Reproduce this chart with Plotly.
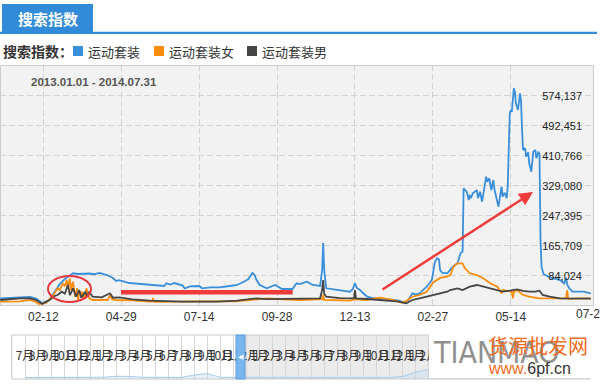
import pandas as pd
import plotly.graph_objects as go

# ---------------- data ----------------
series_names = ["运动套装", "运动套装女", "运动套装男"]

blue_dates = ["2013-01-01","2013-01-10","2013-01-20","2013-01-30","2013-02-05","2013-02-08","2013-02-11","2013-02-15",
"2013-02-18","2013-02-23","2013-02-28","2013-03-05","2013-03-10","2013-03-13","2013-03-18","2013-03-24","2013-03-29",
"2013-04-03","2013-04-08","2013-04-15","2013-04-21","2013-04-24","2013-04-27","2013-05-07","2013-05-17","2013-05-27",
"2013-06-05","2013-06-10","2013-06-12","2013-06-16","2013-06-20","2013-06-28","2013-06-30","2013-07-05","2013-07-14",
"2013-07-17","2013-07-25","2013-08-03","2013-08-13","2013-08-20","2013-08-28","2013-08-31","2013-09-04","2013-09-06",
"2013-09-08","2013-09-11","2013-09-18","2013-09-26","2013-10-03","2013-10-13","2013-10-17","2013-10-20","2013-10-27",
"2013-11-02","2013-11-09","2013-11-11","2013-11-12","2013-11-13","2013-11-15","2013-11-28","2013-12-08","2013-12-11",
"2013-12-13","2013-12-15","2013-12-18","2013-12-21","2013-12-25","2013-12-31","2014-01-06","2014-01-19","2014-01-25",
"2014-01-30","2014-02-03","2014-02-07","2014-02-10","2014-02-14","2014-02-21","2014-02-26","2014-02-27","2014-03-01",
"2014-03-03","2014-03-05","2014-03-06","2014-03-08","2014-03-13","2014-03-19","2014-03-23","2014-03-26","2014-03-28",
"2014-03-29","2014-04-01","2014-04-03","2014-04-04","2014-04-05","2014-04-07","2014-04-11","2014-04-12","2014-04-14",
"2014-04-16","2014-04-18","2014-04-20","2014-04-21","2014-04-23","2014-04-25","2014-04-27","2014-04-28","2014-04-30",
"2014-05-02","2014-05-05","2014-05-06","2014-05-08","2014-05-10","2014-05-11","2014-05-13","2014-05-14","2014-05-15",
"2014-05-17","2014-05-18","2014-05-19","2014-05-21","2014-05-23","2014-05-24","2014-05-25","2014-05-26","2014-05-28",
"2014-05-29","2014-05-31","2014-06-01","2014-06-03","2014-06-05","2014-06-07","2014-06-08","2014-06-10","2014-06-11",
"2014-06-12","2014-06-13","2014-06-15","2014-06-21","2014-07-01","2014-07-05","2014-07-07","2014-07-08","2014-07-10",
"2014-07-13","2014-07-24","2014-07-31"]
blue_values = [21900,23300,24600,26000,22000,15100,9500,14000,
17900,39600,61400,75000,85900,90600,88700,89000,90000,
88000,91400,85900,77800,69600,72000,64100,62000,58700,
58000,56000,63300,60000,64100,57000,49200,55000,56000,
49700,52000,52000,56000,58700,69600,75000,91400,86000,
72300,58700,49700,58700,47800,47800,63300,61000,67700,
58700,56000,99500,173900,99500,49700,45100,40500,48000,
63300,50000,45000,36100,26800,22500,22500,17900,16000,
10500,17900,36100,33000,36100,54100,72300,90600,122100,
131400,128000,100000,92000,90600,110000,117800,145800,150000,
322000,312700,290100,303800,295000,308400,317400,295000,312700,
285500,317000,353600,340000,349200,317400,344600,320000,294800,
271900,326400,299100,310000,294800,326400,526200,535200,530000,
594300,585000,553500,535200,580700,560000,480800,426300,430900,
408100,420000,390100,367200,421700,426300,403700,421700,415000,
181200,108500,88000,80000,72000,63000,78000,60000,49700,
40500,40500,36100]

orange_dates = ["2013-01-01","2013-01-12","2013-01-20","2013-01-30","2013-02-03","2013-02-08","2013-02-15","2013-02-20",
"2013-02-23","2013-02-26","2013-02-28","2013-03-03","2013-03-05","2013-03-07","2013-03-08","2013-03-10","2013-03-11",
"2013-03-13","2013-03-15","2013-03-17","2013-03-18","2013-03-19","2013-03-21","2013-03-22","2013-03-24","2013-03-26",
"2013-03-29","2013-04-01","2013-04-10","2013-04-16","2013-04-18","2013-04-20","2013-04-24","2013-05-10","2013-05-27",
"2013-05-29","2013-05-30","2013-05-31","2013-07-14","2013-08-18","2013-09-01","2013-09-18","2013-10-20","2013-11-11",
"2013-11-12","2013-11-13","2013-12-08","2013-12-13","2013-12-25","2014-01-06","2014-01-19","2014-01-28","2014-02-01",
"2014-02-07","2014-02-14","2014-02-21","2014-02-27","2014-03-06","2014-03-13","2014-03-16","2014-03-19","2014-03-23",
"2014-03-28","2014-03-30","2014-04-04","2014-04-11","2014-04-17","2014-04-24","2014-05-01","2014-05-05","2014-05-06",
"2014-05-15","2014-05-16","2014-05-17","2014-05-20","2014-05-26","2014-06-01","2014-06-11","2014-06-21","2014-07-01",
"2014-07-07","2014-07-08","2014-07-09","2014-07-20","2014-07-31"]
orange_values = [13200,14500,14000,17900,15000,7000,10500,26800,
36100,49700,45000,63300,55000,72300,50000,76900,45000,
67700,26800,49700,17900,45100,30000,40500,20000,49700,
22500,17900,18600,18000,31500,20000,17900,17000,13200,
14000,23000,13000,14000,14000,17900,21900,17900,20000,
31500,18000,16000,20000,17900,24100,17900,10500,15000,
26800,31500,40500,65000,78000,81300,85900,108500,117800,
117800,105000,90600,85900,76900,63300,54100,36100,45000,
40500,22500,40000,45100,31500,26800,22500,22500,21500,
22500,45100,21000,22500,22500]

black_dates = ["2013-01-01","2013-01-10","2013-01-20","2013-01-30","2013-02-05","2013-02-11","2013-02-18","2013-02-23",
"2013-02-26","2013-03-02","2013-03-05","2013-03-08","2013-03-10","2013-03-13","2013-03-16","2013-03-19","2013-03-21",
"2013-03-25","2013-03-27","2013-03-29","2013-04-01","2013-04-10","2013-04-18","2013-04-21","2013-04-27","2013-05-10",
"2013-05-27","2013-06-28","2013-07-31","2013-08-20","2013-09-01","2013-09-08","2013-09-18","2013-09-28","2013-10-08",
"2013-10-20","2013-11-09","2013-11-11","2013-11-12","2013-11-13","2013-11-15","2013-11-28","2013-12-12","2013-12-13",
"2013-12-14","2013-12-25","2014-01-06","2014-01-19","2014-01-25","2014-02-01","2014-02-07","2014-02-14","2014-02-21",
"2014-02-27","2014-03-06","2014-03-13","2014-03-16","2014-03-23","2014-03-28","2014-04-04","2014-04-11","2014-04-17",
"2014-04-24","2014-05-01","2014-05-06","2014-05-13","2014-05-20","2014-05-26","2014-06-01","2014-06-07","2014-06-11",
"2014-06-14","2014-06-21","2014-07-01","2014-07-17","2014-07-31"]
black_values = [17900,19800,22500,22500,17900,7000,17900,28700,
31500,40500,35000,58700,31000,49700,26800,45100,24000,
40500,28700,40500,26800,25000,36100,24000,25200,19800,
16000,13200,13200,16000,20600,22500,20000,20600,22500,
22500,22500,45100,72300,35000,26800,23000,22500,45100,
22500,20600,17900,15000,13200,8900,17900,22500,26800,
31500,36100,40500,45100,49700,45000,54100,58700,54100,
49700,45100,40500,43200,47000,43000,40500,40500,43200,
31500,26800,22500,22500,21500]

x_tick_dates = ["2013-02-12","2013-04-29","2013-07-14","2013-09-28","2013-12-13","2014-02-27","2014-05-14","2014-07-29"]
last_tick_label = "07-2"   # the last tick label is cut off by the page edge in the original
y_tick_values = [84024, 165709, 247395, 329080, 410766, 492451, 574137]
date_range_label = "2013.01.01 - 2014.07.31"

# navigator (overview strip), monthly from 2011-07
nav_labels = ["7月","8月","9月","10月","11月","12月","1月","2月","3月","4月","5月","6月",
              "7月","8月","9月","10月","11月","12月","1月","2月","3月","4月","5月","6月",
              "7月","8月","9月","10月","11月","12月","1月","2月"]
nav_values = [34000,34000,32000,34000,36000,34000,40000,62000,60000,40000,36000,34000,
              36000,90000,125000,38000,36000,34000,34000,36000,38000,36000,36000,38000,
              36000,36000,38000,36000,36000,60000,160000,220000,300000,400000,450000,300000,100000]

# ---------------- geometry helpers ----------------
W, H = 600, 384
def X(p): return p / W
def Y(p): return 1 - p / H

PL, PR, PT, PB = 0, 594, 65, 306
ref = pd.Timestamp("2013-02-12")
ppd = (588.7 - 43.3) / 532.0
x_lo = ref - pd.Timedelta(days=(43.3 - PL) / ppd)
x_hi = ref + pd.Timedelta(days=(PR - 43.3) / ppd)
ppv = 30.0 / (y_tick_values[1] - y_tick_values[0])
y_lo = y_tick_values[0] - (PB - 275.7) / ppv
y_hi = y_tick_values[0] + (275.7 - PT) / ppv

BLUE, ORANGE, DARK = "#3a8fdc", "#ff8c0a", "#454545"
CJK = "Noto Sans CJK SC, sans-serif"
ARIAL = "Arial, Liberation Sans, sans-serif"

fig = go.Figure()
for d, v, name, col in [(blue_dates, blue_values, series_names[0], BLUE),
                        (orange_dates, orange_values, series_names[1], ORANGE),
                        (black_dates, black_values, series_names[2], DARK)]:
    fig.add_trace(go.Scatter(x=pd.to_datetime(d), y=v, mode="lines", name=name,
                             line=dict(color=col, width=1.8), xaxis="x", yaxis="y"))

fig.add_trace(go.Scatter(x=list(range(len(nav_values))), y=nav_values, mode="lines",
                         line=dict(color="#a8cbec", width=1), fill="tozeroy",
                         fillcolor="rgba(190,215,240,0.35)", xaxis="x2", yaxis="y2"))

NX0, NX1, NY0, NY1 = 11.7, 590, 335, 379
nstep = 13.03
n_lo = -(25 - NX0) / nstep
n_hi = (NX1 - 25) / nstep

fig.update_layout(
    width=W, height=H, margin=dict(l=0, r=0, t=0, b=0),
    paper_bgcolor="white", plot_bgcolor="rgba(0,0,0,0)", showlegend=False,
    xaxis=dict(domain=[X(PL), X(PR)], range=[x_lo, x_hi], type="date", anchor="y",
               tickvals=pd.to_datetime(x_tick_dates), tickformat="%m-%d", ticklabelstandoff=2,
               showgrid=True, gridcolor="#d2d2d2", gridwidth=1, griddash="6px,3px",
               zeroline=False, showline=False, ticks="",
               tickfont=dict(family=ARIAL, size=12, color="#333")),
    yaxis=dict(domain=[Y(PB), Y(PT)], range=[y_lo, y_hi], anchor="x", side="right",
               tickvals=y_tick_values, ticktext=[f"{v:,}" for v in y_tick_values],
               ticklabelposition="inside", ticklabelstandoff=9,
               showgrid=True, gridcolor="#d2d2d2", gridwidth=1, griddash="6px,3px",
               zeroline=False, showline=False, ticks="",
               tickfont=dict(family=ARIAL, size=11, color="#222")),
    xaxis2=dict(domain=[X(NX0), X(NX1)], range=[n_lo, n_hi], anchor="y2",
                tickvals=list(range(len(nav_labels))), ticktext=nav_labels,
                ticklabelposition="inside", ticklabelstandoff=14, tickangle=0,
                showgrid=True, gridcolor="#d6d6d6", gridwidth=1, zeroline=False,
                showline=False, ticks="", tickfont=dict(family=CJK, size=12, color="#333")),
    yaxis2=dict(domain=[Y(NY1), Y(NY0)], range=[0, 1000000], anchor="x2", visible=False),
)

shapes = []
# main plot background and border
shapes.append(dict(type="rect", xref="paper", yref="paper", x0=X(0), x1=X(594), y0=Y(306), y1=Y(65),
                   fillcolor="#f2f2f2", line=dict(width=0), layer="below"))
shapes.append(dict(type="rect", xref="paper", yref="paper", x0=X(0.5), x1=X(593.5), y0=Y(305.5), y1=Y(65.5),
                   fillcolor="rgba(0,0,0,0)", line=dict(color="#cccccc", width=1), layer="below"))
# tab
shapes.append(dict(type="rect", xref="paper", yref="paper", x0=X(2), x1=X(93), y0=Y(32), y1=Y(4),
                   fillcolor="#318bd8", line=dict(width=0)))
shapes.append(dict(type="rect", xref="paper", yref="paper", x0=X(0), x1=X(597), y0=Y(34), y1=Y(31.7),
                   fillcolor="#318bd8", line=dict(width=0)))
# legend squares
for x0, col in [(73, BLUE), (154, ORANGE), (247, DARK)]:
    shapes.append(dict(type="rect", xref="paper", yref="paper", x0=X(x0), x1=X(x0 + 10), y0=Y(56), y1=Y(46),
                       fillcolor=col, line=dict(width=0)))
# navigator backgrounds
shapes.append(dict(type="rect", xref="paper", yref="paper", x0=X(NX0), x1=X(236), y0=Y(NY1), y1=Y(NY0),
                   fillcolor="white", line=dict(width=0), layer="below"))
shapes.append(dict(type="rect", xref="paper", yref="paper", x0=X(245), x1=X(NX1), y0=Y(NY1), y1=Y(NY0),
                   fillcolor="#ebebeb", line=dict(width=0), layer="below"))
shapes.append(dict(type="rect", xref="paper", yref="paper", x0=X(NX0), x1=X(NX1), y0=Y(NY1), y1=Y(NY0),
                   fillcolor="rgba(0,0,0,0)", line=dict(color="#c8c8c8", width=1)))
# handle
shapes.append(dict(type="rect", xref="paper", yref="paper", x0=X(236), x1=X(245), y0=Y(NY1), y1=Y(NY0),
                   fillcolor="#7ab6ee", line=dict(color="#5a9ee0", width=1)))
# watermark box
shapes.append(dict(type="rect", xref="paper", yref="paper", x0=X(429), x1=X(595), y0=Y(378), y1=Y(329),
                   fillcolor="white", line=dict(width=0)))
# red markup
shapes.append(dict(type="circle", xref="paper", yref="paper", x0=X(48), x1=X(91), y0=Y(302), y1=Y(276),
                   line=dict(color="#e8383d", width=2)))
shapes.append(dict(type="line", xref="paper", yref="paper", x0=X(121), x1=X(292.7), y0=Y(292.2), y1=Y(292.2),
                   line=dict(color="#f03a3a", width=4.5)))
fig.update_layout(shapes=shapes)

ann = []
ann.append(dict(x=X(47.5), y=Y(18.5), xref="paper", yref="paper", text="<b>搜索指数</b>", showarrow=False,
                font=dict(family=CJK, size=15, color="white"), xanchor="center", yanchor="middle"))
ann.append(dict(x=X(1), y=Y(51), xref="paper", yref="paper", text="<b>搜索指数：</b>", showarrow=False,
                font=dict(family=CJK, size=14, color="#333"), xanchor="left", yanchor="middle"))
for x0, name in [(86, series_names[0]), (167, series_names[1]), (260, series_names[2])]:
    ann.append(dict(x=X(x0), y=Y(51), xref="paper", yref="paper", text=name, showarrow=False,
                    font=dict(family=CJK, size=13, color="#333"), xanchor="left", yanchor="middle"))
ann.append(dict(x=X(29), y=Y(82), xref="paper", yref="paper", text="<b>" + date_range_label + "</b>",
                showarrow=False, font=dict(family=ARIAL, size=11.5, color="#555"),
                xanchor="left", yanchor="middle"))
# cut-off last x tick label
ann.append(dict(x=X(573.5), y=Y(314), xref="paper", yref="paper", text=last_tick_label, showarrow=False,
                font=dict(family=ARIAL, size=12, color="#333"), xanchor="left", yanchor="middle"))
ann.append(dict(x=X(240.5), y=Y(357), xref="paper", yref="paper", text="◀", showarrow=False,
                font=dict(family="DejaVu Sans", size=7, color="white"), xanchor="center", yanchor="middle"))
# watermark
ann.append(dict(x=X(431), y=Y(352), xref="paper", yref="paper", text="TIANMAO", showarrow=False,
                font=dict(family="Liberation Sans Narrow, DejaVu Sans Condensed, sans-serif", size=30, color="#8f8f8f"),
                xanchor="left", yanchor="middle"))
ann.append(dict(x=X(486), y=Y(345), xref="paper", yref="paper", text="货源批发网", showarrow=False,
                font=dict(family=CJK, size=20, color="#f26b1d"), xanchor="left", yanchor="middle"))
ann.append(dict(x=X(486), y=Y(368), xref="paper", yref="paper",
                text="<span style='color:#f26b1d'>www.</span><span style='color:#333'>6pf.cn</span>",
                showarrow=False, font=dict(family=ARIAL, size=16), xanchor="left", yanchor="middle"))
# red arrow
ann.append(dict(x=X(533), y=Y(192), xref="paper", yref="paper", ax=381 - 533, ay=290.5 - 192,
                text="", showarrow=True, arrowhead=2, arrowsize=1.1, arrowwidth=2.5, arrowcolor="#ee3b3b"))
fig.update_layout(annotations=ann)

fig.write_html("out.html")
